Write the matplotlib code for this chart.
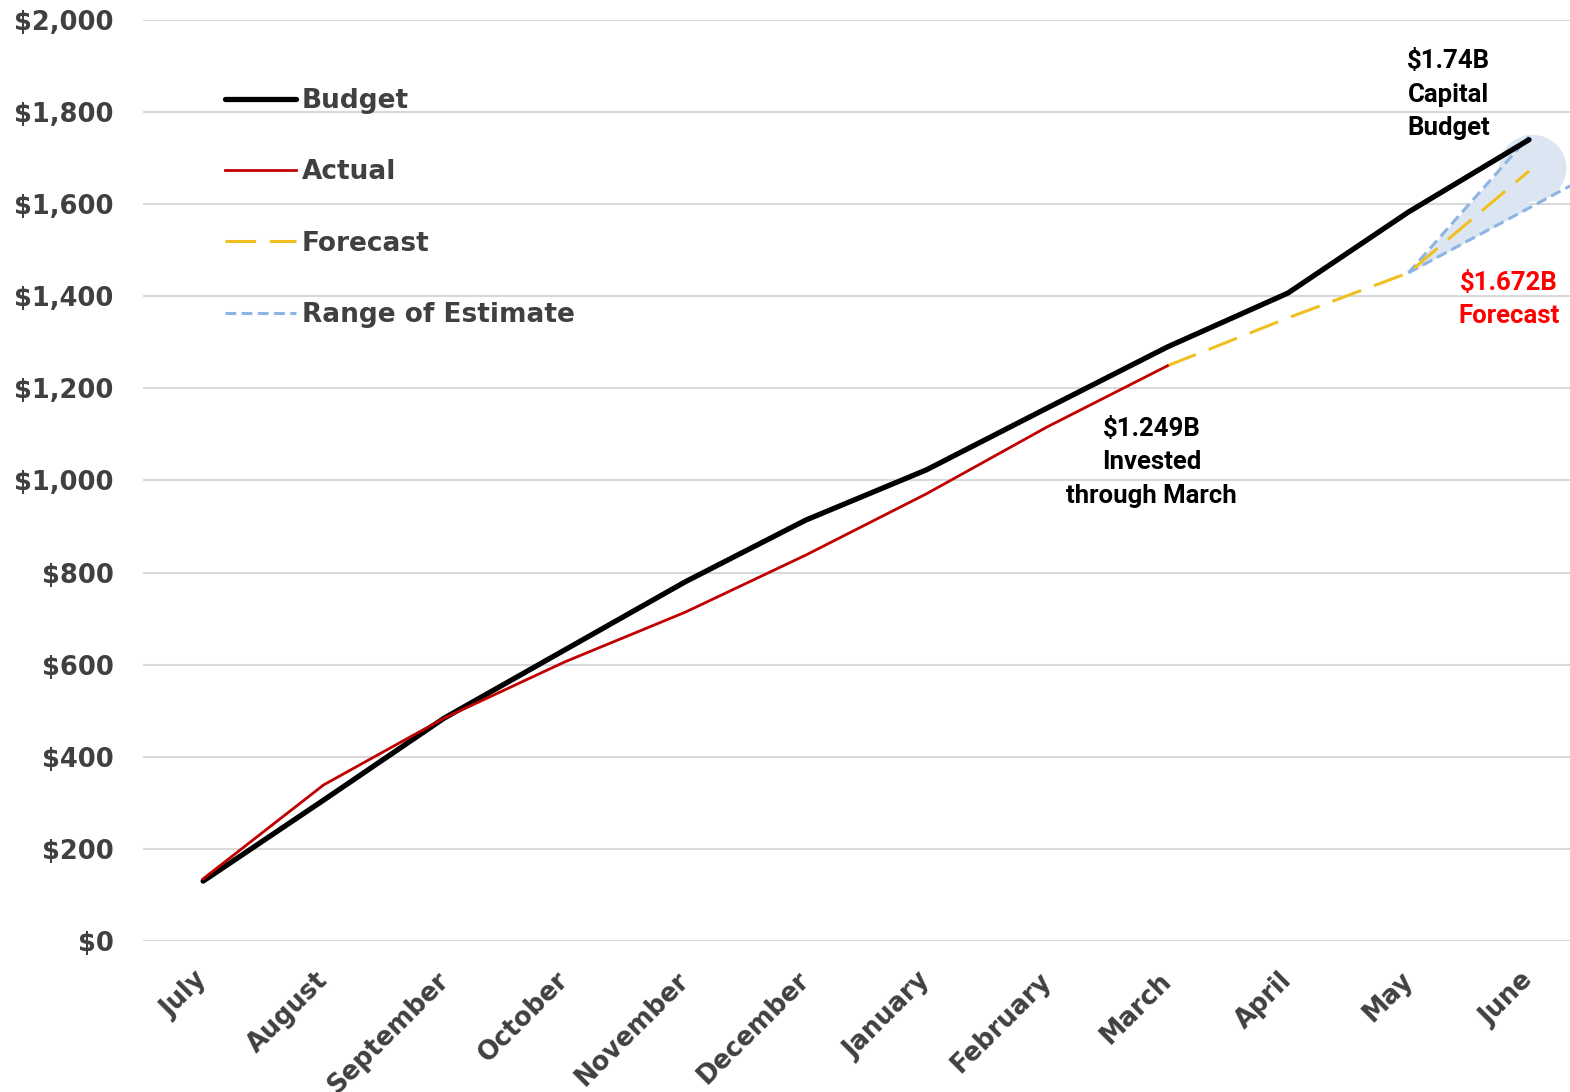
import numpy as np
import matplotlib.pyplot as plt
from matplotlib.patches import Ellipse
from matplotlib.transforms import ScaledTranslation

months = ["July", "August", "September", "October", "November", "December",
          "January", "February", "March", "April", "May", "June"]

budget = [130, 306, 484, 632, 780, 914, 1023, 1157, 1290, 1407, 1583, 1740]
actual = [135, 339, 484, 606, 714, 838, 971, 1116, 1249]
forecast = [1249, 1353, 1451, 1672]          # March .. June
range_x = [10, 11]
range_high = [1451, 1747]
range_low_x = [10, 11.4]
range_low = [1451, 1648]

x = np.arange(len(months))
grey = "#404040"

fig = plt.figure(figsize=(15.7, 10.92), dpi=100)
ax = fig.add_axes([0.091, 0.1383, 0.909, 0.8434])

# shaded band for the range of estimate
low_at_june = np.interp(11, range_low_x, range_low)
ax.fill_between(range_x, [range_low[0], low_at_june], range_high,
                color="#dce6f2", lw=0, zorder=1)
ax.add_patch(Ellipse((11.03, 1678), 0.56, 145, color="#dce6f2", lw=0, zorder=1))

ax.plot(x, budget, color="black", lw=3.8, solid_capstyle="round", zorder=4,
        label="Budget")
ax.plot(x[:len(actual)], actual, color="#c00000", lw=2.0, zorder=5,
        label="Actual")
ax.plot(x[8:], forecast, color="#f0c020", lw=2.2, dashes=(10, 4.5), zorder=3,
        label="Forecast")
ax.plot(range_x, range_high, color="#8db4e2", lw=2.2, dashes=(3.5, 1.8),
        zorder=2, label="Range of Estimate")
ax.plot(range_low_x, range_low, color="#8db4e2", lw=2.2, dashes=(3.5, 1.8),
        zorder=2)

ax.set_ylim(0, 2000)
ax.set_xlim(-0.5, 11.34)
ax.set_yticks(np.arange(0, 2001, 200))
ax.set_yticklabels([f"${v:,}" for v in range(0, 2001, 200)])
ax.set_xticks(x)
ax.set_xticklabels(months, rotation=45, ha="right", rotation_mode="anchor")
ax.grid(axis="y", color="#d9d9d9", lw=1.5, zorder=0)
ax.set_axisbelow(True)
for s in ax.spines.values():
    s.set_visible(False)
ax.tick_params(length=0, colors=grey, labelsize=18.5)
ax.tick_params(axis="y", pad=21)
ax.tick_params(axis="x", pad=19)
shift = ScaledTranslation(-0.09, 0, fig.dpi_scale_trans)
for lbl in ax.get_xticklabels():
    lbl.set_transform(lbl.get_transform() + shift)
for lbl in ax.get_xticklabels() + ax.get_yticklabels():
    lbl.set_fontweight("bold")

leg = ax.legend(loc="upper left", bbox_to_anchor=(0.041, 0.952), frameon=False,
                fontsize=19, handlelength=2.7, handletextpad=0.2,
                labelspacing=1.72)
for t in leg.get_texts():
    t.set_color(grey)
    t.set_fontweight("bold")

note = dict(ha="center", va="center", fontsize=18.5, fontweight="bold",
            family="Roboto", linespacing=1.5)
ax.text(10.33, 1838, "$1.74B\nCapital\nBudget", color="black", **note)
ax.text(10.83, 1393, "$1.672B\nForecast", color="#ff0000", **note)
ax.text(7.87, 1040, "$1.249B\nInvested\nthrough March", color="black", **note)

fig.savefig("out.png", dpi=100)
